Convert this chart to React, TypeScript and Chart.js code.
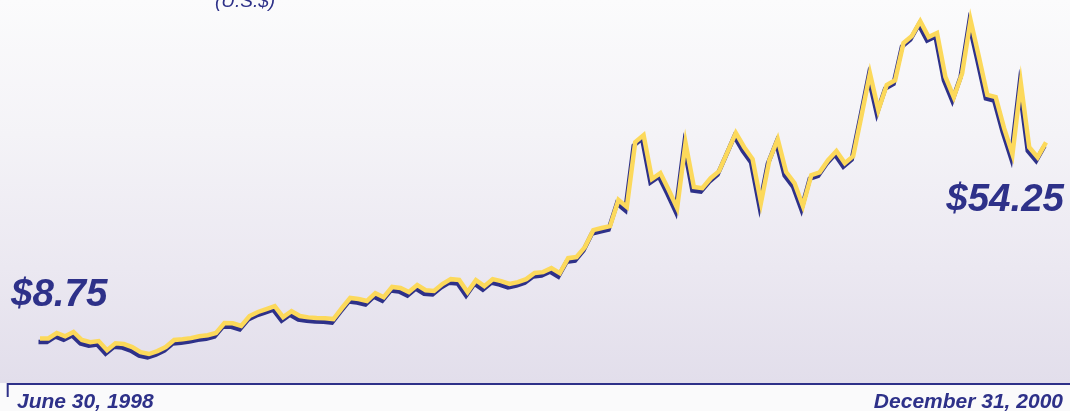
import { useEffect, useRef } from "react";
import { Chart, registerables } from "chart.js";

Chart.register(...registerables);

// Weekly closing share price (U.S.$), June 30, 1998 – December 31, 2000
const sharePrice = [
  8.75, 8.75, 10.0, 9.25, 10.25, 8.38, 7.88, 8.13, 6.0, 7.63,
  7.44, 6.75, 5.56, 5.13, 5.81, 6.75, 8.38, 8.56, 8.81, 9.25,
  9.5, 10.0, 12.31, 12.25, 11.63, 13.94, 14.88, 15.56, 16.25, 13.69,
  15.06, 13.94, 13.63, 13.5, 13.44, 13.25, 15.75, 18.13, 17.88, 17.44,
  19.25, 18.31, 20.69, 20.44, 19.5, 21.13, 19.94, 19.75, 21.38, 22.5,
  22.31, 19.5, 22.25, 20.88, 22.5, 22.06, 21.38, 21.81, 22.5, 23.94,
  24.13, 25.06, 23.88, 27.38, 27.63, 29.94, 33.88, 34.38, 34.81, 40.88,
  39.25, 54.31, 55.94, 45.75, 47.13, 43.19, 39.0, 54.13, 43.88, 43.63,
  45.94, 47.56, 52.0, 56.44, 53.13, 50.38, 40.25, 50.13, 55.0, 47.38,
  44.81, 39.5, 46.63, 47.31, 50.13, 52.25, 49.44, 51.06, 60.56, 70.25,
  61.75, 67.56, 68.69, 77.31, 78.94, 82.38, 78.69, 79.63, 69.44, 64.75,
  70.31, 82.63, 74.06, 65.25, 64.75, 57.56, 51.5, 68.0, 53.13, 50.81,
  54.25,
];

// One category per week
const weeks = sharePrice.map((_, i) => `W${i + 1}`);

const startDate = "June 30, 1998";
const endDate = "December 31, 2000";
const currencyNote = "(U.S.$)";

const NAVY = "#2e3189";
const GOLD = "#fcd95b";
const FONT = '"Liberation Sans", Arial, Helvetica, sans-serif';

const fmt = (v: number) => `$${v.toFixed(2)}`;

// Soft lavender backdrop that fades to white towards the top
const backdrop = {
  id: "backdrop",
  beforeDraw(chart: any) {
    const { ctx, width, height, chartArea } = chart;
    const base = chartArea.bottom;
    ctx.save();
    const g = ctx.createLinearGradient(0, 0, 0, base);
    g.addColorStop(0, "#fbfbfc");
    g.addColorStop(0.35, "#f4f3f7");
    g.addColorStop(0.7, "#ebe8f1");
    g.addColorStop(1, "#e2deeb");
    ctx.fillStyle = g;
    ctx.fillRect(0, 0, width, base);
    ctx.fillStyle = "#fafafb";
    ctx.fillRect(0, base, width, height - base);
    ctx.restore();
  },
};

// Navy drop shadow under the gold price line
const lineShadow = {
  id: "lineShadow",
  beforeDatasetDraw(chart: any) {
    const ctx = chart.ctx;
    ctx.save();
    ctx.shadowColor = NAVY;
    ctx.shadowOffsetX = -1.5;
    ctx.shadowOffsetY = 3.5;
    ctx.shadowBlur = 0.5;
  },
  afterDatasetDraw(chart: any) {
    chart.ctx.restore();
  },
};

// Baseline rule with a short tick at its left end
const baseline = {
  id: "baseline",
  afterDraw(chart: any) {
    const { ctx, width, chartArea } = chart;
    const y = chartArea.bottom + 1;
    ctx.save();
    ctx.strokeStyle = NAVY;
    ctx.lineWidth = 2;
    ctx.beginPath();
    ctx.moveTo(7.7, y + 13);
    ctx.lineTo(7.7, y);
    ctx.lineTo(width, y);
    ctx.stroke();
    ctx.restore();
  },
};

export default function App() {
  const canvasRef = useRef<HTMLCanvasElement>(null);

  useEffect(() => {
    const canvas = canvasRef.current;
    if (!canvas) return;
    const chart = new Chart(canvas, {
      type: "line",
      data: {
        labels: weeks,
        datasets: [
          {
            data: sharePrice,
            borderColor: GOLD,
            borderWidth: 4.5,
            pointRadius: 0,
            tension: 0,
            borderJoinStyle: "miter",
            borderCapStyle: "butt",
            clip: false,
          },
        ],
      },
      options: {
        animation: false,
        responsive: false,
        maintainAspectRatio: false,
        devicePixelRatio: 1,
        layout: { padding: { left: 40, right: 24, top: 0, bottom: 28 } },
        scales: {
          x: { type: "category", display: false, offset: false },
          y: { type: "linear", display: false, min: -1.6, max: 87.3 },
        },
        plugins: {
          legend: { display: false },
          tooltip: { enabled: false },
        },
      },
      plugins: [backdrop, lineShadow, baseline],
    });
    return () => chart.destroy();
  }, []);

  const bigText = {
    position: "absolute" as const,
    fontFamily: FONT,
    fontWeight: 700,
    fontStyle: "italic",
    color: NAVY,
    fontSize: 38.5,
    lineHeight: 1,
    whiteSpace: "nowrap" as const,
  };
  const dateText = { ...bigText, fontSize: 21 };

  return (
    <div
      style={{
        position: "absolute",
        left: 0,
        top: 0,
        width: 1070,
        height: 411,
        overflow: "hidden",
      }}
    >
      <canvas ref={canvasRef} width={1070} height={411} style={{ display: "block" }} />
      <span
        style={{
          position: "absolute",
          left: 215,
          top: -9.5,
          fontFamily: FONT,
          fontStyle: "italic",
          fontSize: 19,
          lineHeight: 1,
          color: NAVY,
          whiteSpace: "nowrap",
        }}
      >
        {currencyNote}
      </span>
      <span style={{ ...bigText, left: 11, top: 274.4 }}>{fmt(sharePrice[0])}</span>
      <span style={{ ...bigText, right: 6, top: 179.4 }}>
        {fmt(sharePrice[sharePrice.length - 1])}
      </span>
      <span style={{ ...dateText, left: 17, top: 390.2 }}>{startDate}</span>
      <span style={{ ...dateText, right: 7, top: 390.2 }}>{endDate}</span>
    </div>
  );
}
